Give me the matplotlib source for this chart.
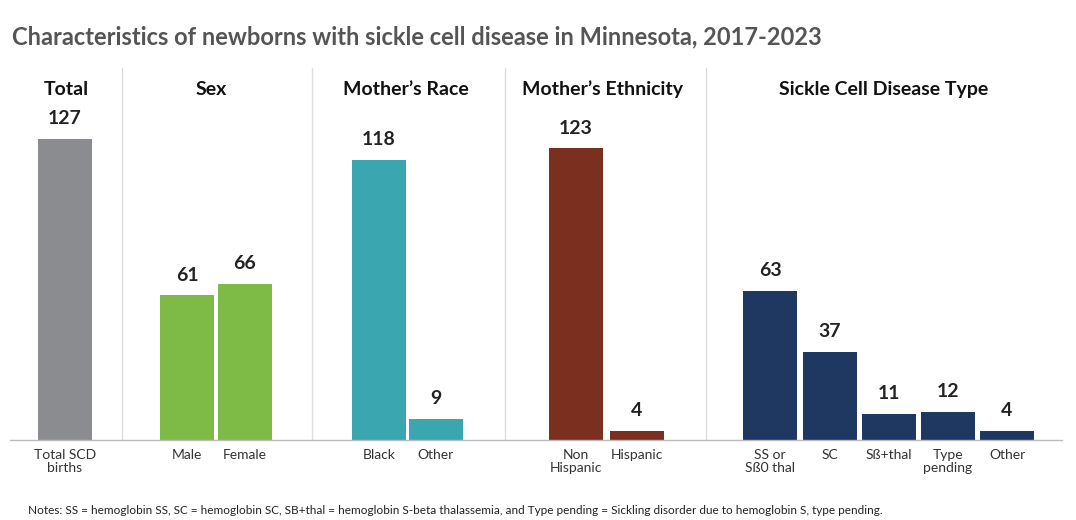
import matplotlib
matplotlib.use("Agg")
import matplotlib.pyplot as plt

plt.rcParams['font.family'] = ['Lato', 'DejaVu Sans']

groups = ["Total", "Sex", "Mother\u2019s Race", "Mother\u2019s Ethnicity", "Sickle Cell Disease Type"]
labels = [["Total SCD\nbirths"], ["Male", "Female"], ["Black", "Other"],
          ["Non\nHispanic", "Hispanic"],
          ["SS or\nS\u00df0 thal", "SC", "S\u00df+thal", "Type\npending", "Other"]]
values = [[127], [61, 66], [118, 9], [123, 4], [63, 37, 11, 12, 4]]
colors = ["#8a8c8f", "#7dbb46", "#3aa6b0", "#7b2f1f", "#1f3861"]

# layout (pixel positions)
centers = [[65], [187, 245], [379, 436], [576, 637], [770, 830, 889, 948, 1007]]
header_x = [66, 211, 406, 602, 884]
seps = [122, 312, 505, 706]
W, H = 1076, 520

fig = plt.figure(figsize=(W/100, H/100), dpi=100)
ax = fig.add_axes([0, (H-440)/H, 1, 380/H])
ax.set_xlim(0, W)
ax.set_ylim(0, 380/2.37)
ax.axis('off')

for gi, g in enumerate(groups):
    for c, v, lab in zip(centers[gi], values[gi], labels[gi]):
        ax.bar(c, v, width=54, color=colors[gi])
        ax.text(c, v + 5, str(v), ha='center', va='bottom', fontsize=14,
                fontweight='bold', color='#222222')
        fig.text(c/W, 1-449/H, lab, ha='center', va='top', fontsize=10,
                 color='#333333', linespacing=1.1)
    fig.text(header_x[gi]/W, 1-89/H, g, ha='center', va='center', fontsize=14,
             fontweight='bold', color='#111111')

for s in seps:
    fig.add_artist(plt.Line2D([s/W, s/W], [1-440/H, 1-68/H], color='#dddddd', lw=1))
fig.add_artist(plt.Line2D([10/W, 1062/W], [1-440/H, 1-440/H], color='#bbbbbb', lw=1))

fig.text(12/W, 1-37/H, "Characteristics of newborns with sickle cell disease in Minnesota, 2017-2023",
         ha='left', va='center', fontsize=17, fontweight='bold', color='#555555')
fig.text(28/W, 1-510/H, "Notes: SS = hemoglobin SS, SC = hemoglobin SC, SB+thal = hemoglobin S-beta thalassemia, and Type pending = Sickling disorder due to hemoglobin S, type pending.",
         ha='left', va='center', fontsize=8.5, color='#222222')

fig.savefig("out.png", dpi=100)
